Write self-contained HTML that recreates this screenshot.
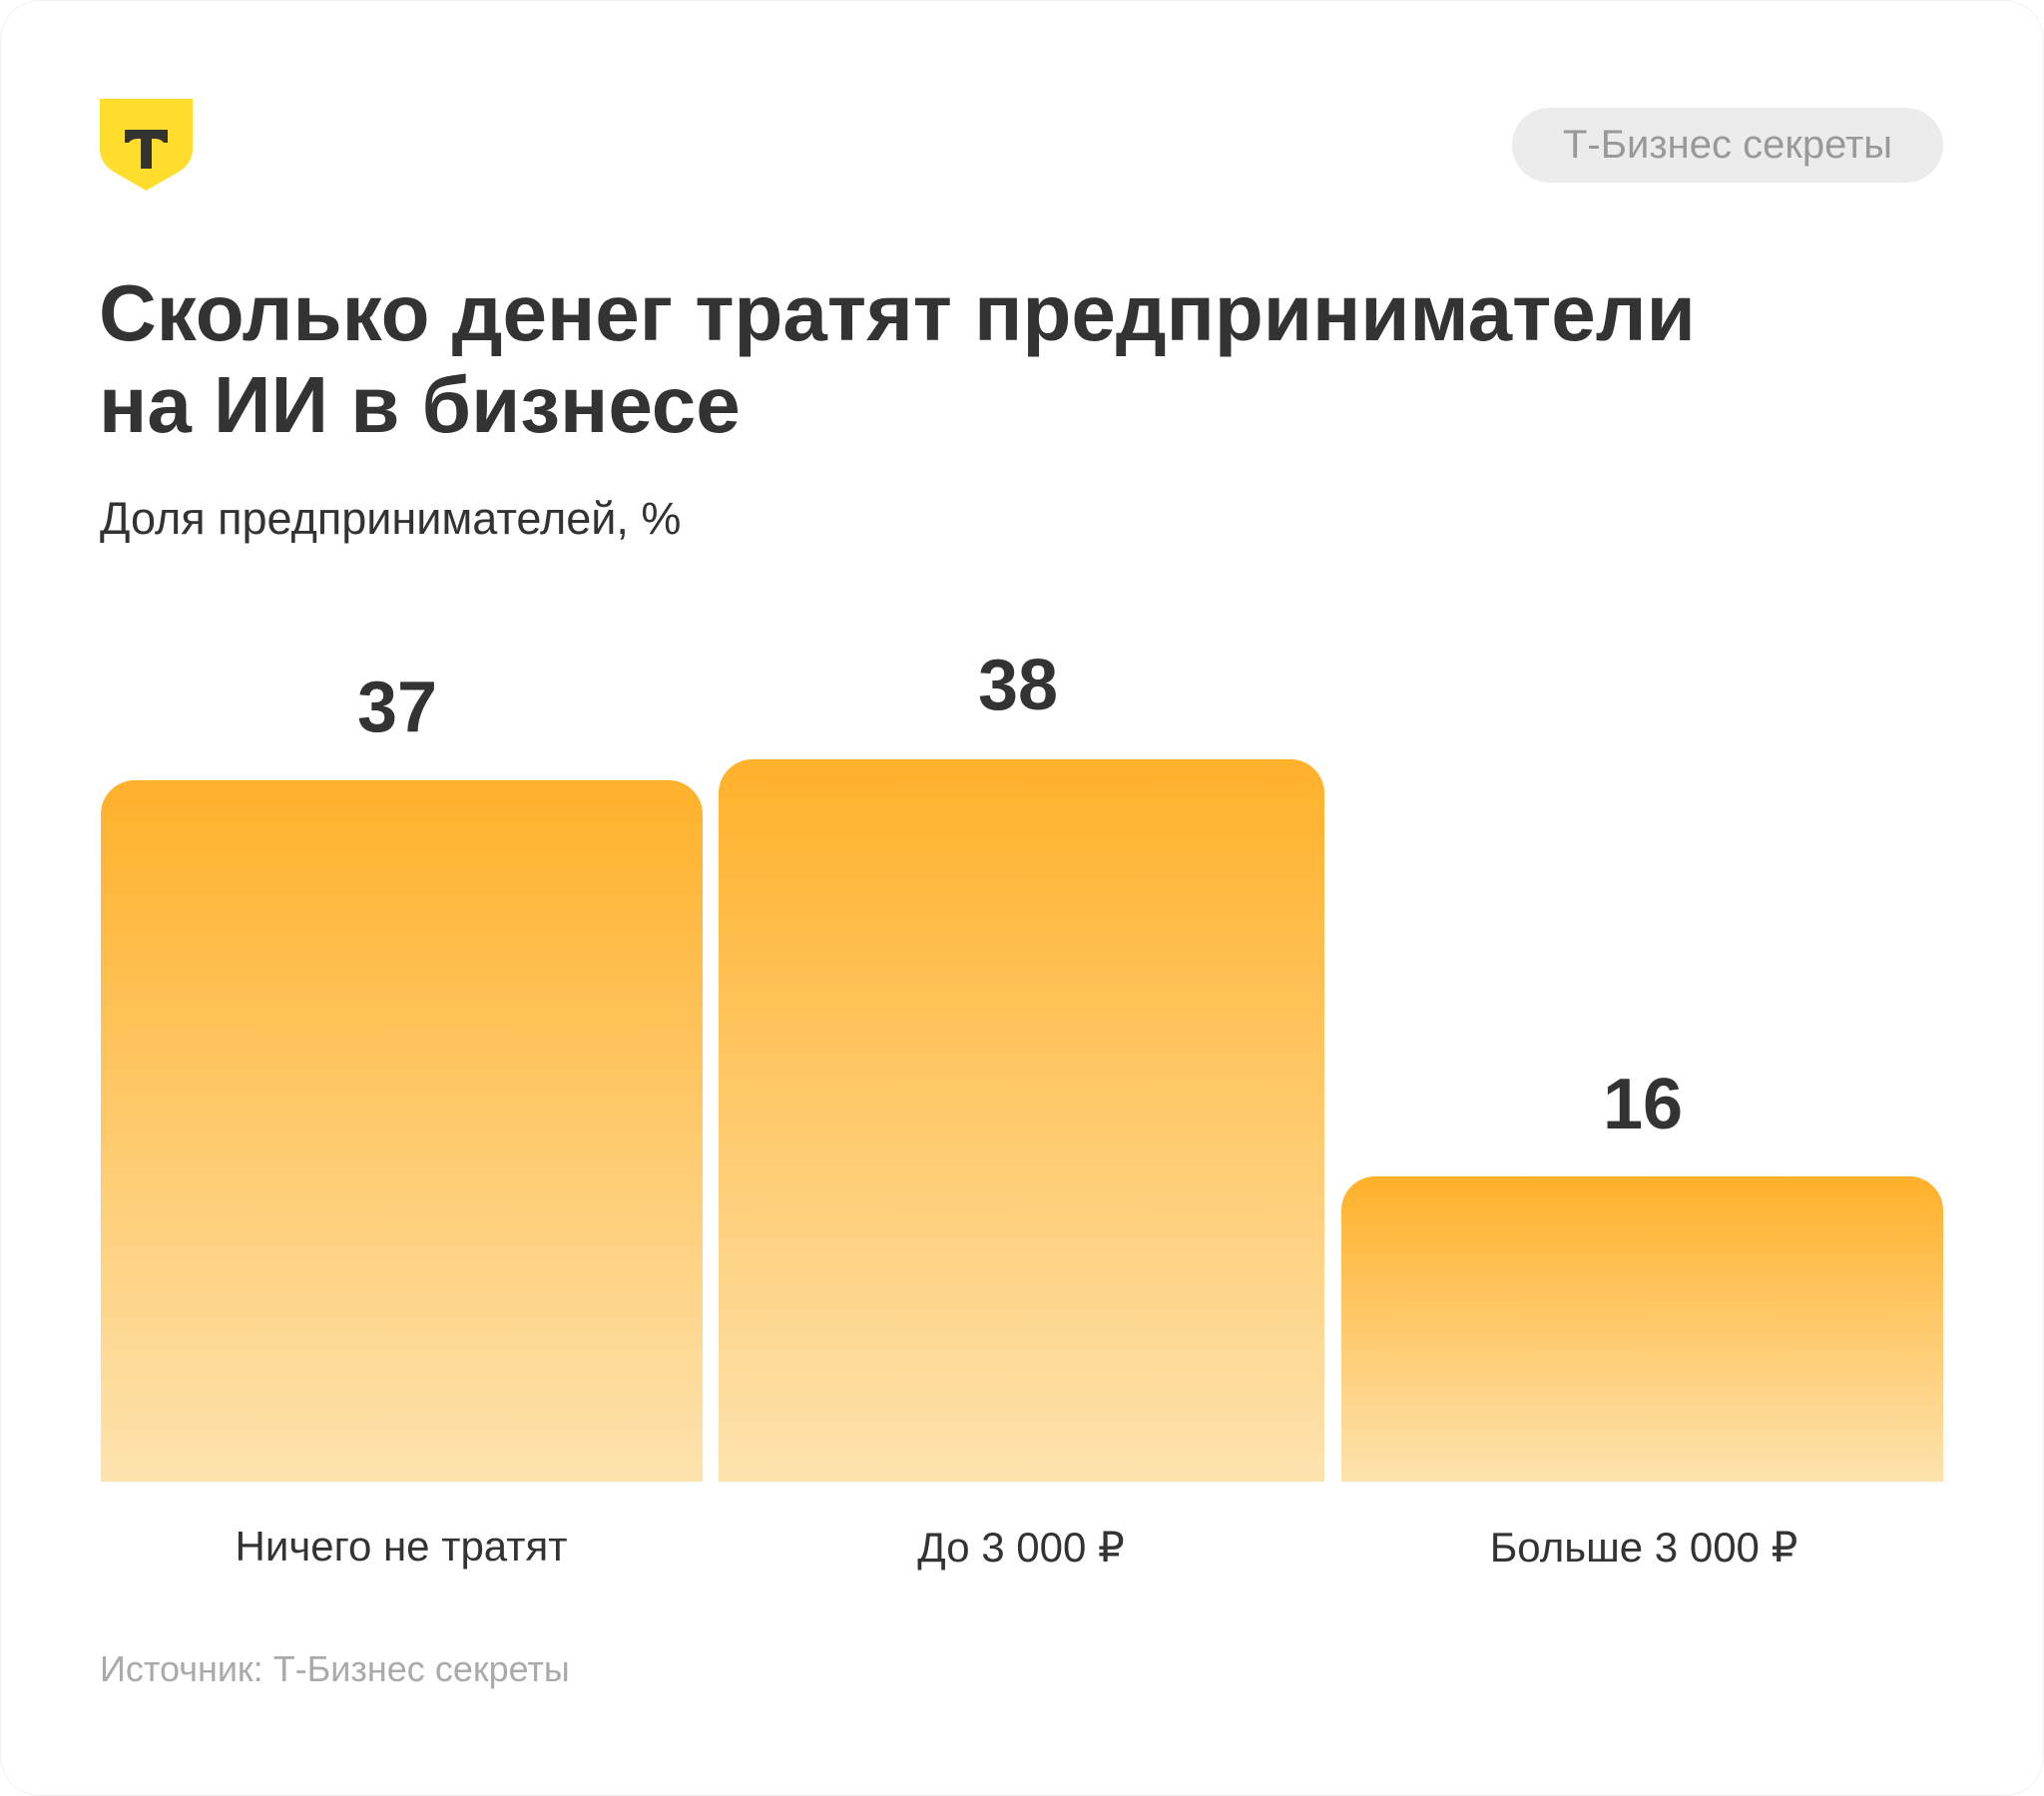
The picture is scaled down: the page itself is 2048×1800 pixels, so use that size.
<!DOCTYPE html>
<html><head><meta charset="utf-8"><style>
html,body{margin:0;padding:0;background:#fff;}
body{width:2048px;height:1800px;position:relative;overflow:hidden;font-family:"Liberation Sans","DejaVu Sans",sans-serif;color:#333;}
.card{position:absolute;left:0;top:0;width:2046px;height:1798px;border:1px solid #f0f0f0;border-radius:40px;}
.t{position:absolute;white-space:nowrap;}
.bar{position:absolute;border-radius:34px 34px 0 0;background:linear-gradient(#ffb12a,#fde3ae);}
.val{position:absolute;font-weight:bold;font-size:72px;transform:translateX(-50%);color:#333;}
.cat{position:absolute;font-size:42px;transform:translateX(-50%);color:#333;white-space:nowrap;}
</style></head><body>
<div class="card"></div>
<svg style="position:absolute;left:100px;top:99px" width="93" height="94" viewBox="0 0 93 94">
<path d="M0 0H93V50Q93 66 76 75L46.5 92L17 75Q0 66 0 50Z" fill="#ffdd2d"/>
<path d="M25 31H68V44H64Q61 40 55 40H52V70H41V40H38Q32 40 29 44H25Z" fill="#333"/>
</svg>
<div style="position:absolute;left:1515px;top:108px;width:432px;height:75px;border-radius:38px;background:#ececec;"></div>
<div class="t" style="left:1515px;width:432px;top:118px;text-align:center;font-size:40px;line-height:55px;color:#999;">Т-Бизнес секреты</div>
<div class="t" style="left:99px;top:268px;font-size:80px;font-weight:bold;line-height:92px;color:#333;">Сколько денег тратят предприниматели<br>на ИИ в бизнесе</div>
<div class="t" style="left:100px;top:495px;font-size:45px;line-height:50px;">Доля предпринимателей, %</div>
<div class="bar" style="left:101px;top:782px;width:603px;height:703px;"></div>
<div class="bar" style="left:720px;top:761px;width:607px;height:724px;"></div>
<div class="bar" style="left:1344px;top:1179px;width:603px;height:306px;"></div>
<div class="val" style="left:398px;top:668px;">37</div>
<div class="val" style="left:1020px;top:646px;">38</div>
<div class="val" style="left:1646px;top:1066px;">16</div>
<div class="cat" style="left:402px;top:1526px;">Ничего не тратят</div>
<div class="cat" style="left:1023px;top:1526px;">До 3 000 ₽</div>
<div class="cat" style="left:1647px;top:1526px;">Больше 3 000 ₽</div>
<div class="t" style="left:100px;top:1652px;font-size:36px;color:#aaa;">Источник: Т-Бизнес секреты</div>
</body></html>
